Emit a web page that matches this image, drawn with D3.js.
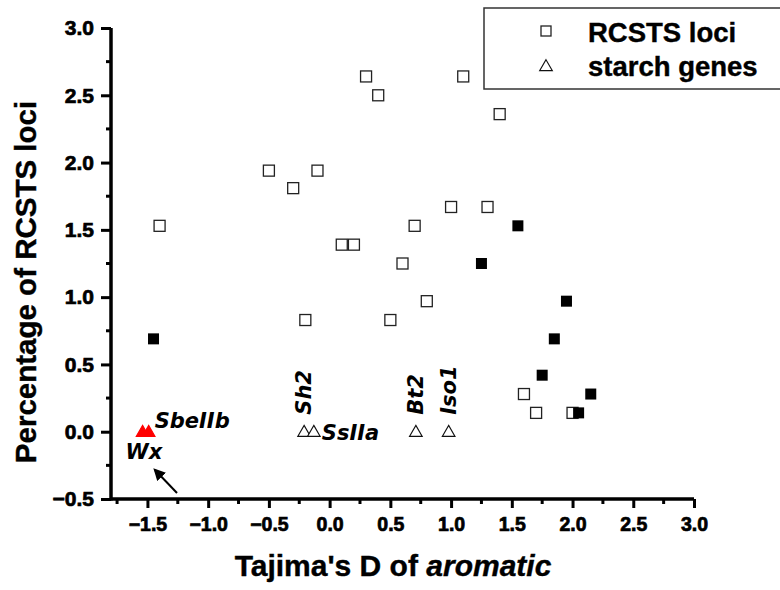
<!DOCTYPE html>
<html>
<head>
<meta charset="utf-8">
<script src="https://cdn.jsdelivr.net/npm/d3@7"></script>
<style>
  body { margin: 0; background: #fff; }
  svg { display: block; }
</style>
</head>
<body>
<svg id="chart" width="780" height="590"></svg>
<script>
// RCSTS loci, open squares
const lociX = [0.30, 1.10, 0.40, 1.40, -0.50, -0.10, -0.30, 1.00, 1.30, -1.40, 0.70, 0.10, 0.20, 0.60, -0.20, 0.50, 0.80, 1.60, 1.70, 2.00];
const lociY = [2.64, 2.64, 2.50, 2.36, 1.94, 1.94, 1.81, 1.67, 1.67, 1.53, 1.53, 1.39, 1.39, 1.25, 0.83, 0.83, 0.97, 0.28, 0.14, 0.14];

// RCSTS loci, filled squares
const filledX = [-1.45, 1.25, 1.55, 1.95, 1.85, 1.75, 2.15, 2.05];
const filledY = [0.69, 1.25, 1.53, 0.97, 0.69, 0.42, 0.28, 0.14];

// starch genes
const geneNames = ["Wx", "SbeIIb", "Sh2", "SsIIa", "Bt2", "Iso1"];
const geneX = [-1.54, -1.49, -0.21, -0.13, 0.71, 0.98];
const geneY = [0, 0, 0, 0, 0, 0];
const geneRed = [true, true, false, false, false, false];

const xTicks = [-1.5, -1.0, -0.5, 0.0, 0.5, 1.0, 1.5, 2.0, 2.5, 3.0];
const yTicks = [-0.5, 0.0, 0.5, 1.0, 1.5, 2.0, 2.5, 3.0];

const svg = d3.select("#chart");
const sansBold = "Liberation Sans, Arial, sans-serif";

const x = d3.scaleLinear().domain([-1.8, 3.0]).range([111, 694]);
const y = d3.scaleLinear().domain([-0.5, 3.0]).range([499, 28]);

const minorX = d3.range(-1.75, 3.0, 0.5);
const minorY = d3.range(-0.25, 3.0, 0.5);

// axes
const xAxis = svg.append("g")
  .attr("transform", "translate(0,499)")
  .call(d3.axisBottom(x).tickValues(xTicks).tickFormat(d3.format(".1f")).tickSize(9).tickPadding(9));
xAxis.append("g").selectAll("line")
  .data(minorX).enter().append("line")
  .attr("x1", d => x(d)).attr("x2", d => x(d))
  .attr("y1", 0).attr("y2", 5)
  .attr("stroke", "#000").attr("stroke-width", 3);

const yAxis = svg.append("g")
  .attr("transform", "translate(111,0)")
  .call(d3.axisLeft(y).tickValues(yTicks).tickFormat(d3.format(".1f")).tickSize(10).tickPadding(7));
yAxis.append("g").selectAll("line")
  .data(minorY).enter().append("line")
  .attr("x1", 0).attr("x2", -5)
  .attr("y1", d => y(d)).attr("y2", d => y(d))
  .attr("stroke", "#000").attr("stroke-width", 3);

[[xAxis, 19.5], [yAxis, 21]].forEach(([g, fs]) => {
  g.select(".domain").remove();
  g.selectAll(".tick line").attr("stroke-width", 3);
  g.selectAll(".tick text")
    .attr("font-family", sansBold)
    .attr("font-weight", "bold")
    .attr("font-size", fs)
    .attr("fill", "#000")
    .attr("stroke", "#000").attr("stroke-width", 0.7);
});
svg.append("line")
  .attr("x1", x(-1.8)).attr("x2", x(3.0)).attr("y1", 499).attr("y2", 499)
  .attr("stroke", "#000").attr("stroke-width", 3.5);
svg.append("line")
  .attr("x1", 111).attr("x2", 111).attr("y1", y(-0.5) + 1.5).attr("y2", y(3.0))
  .attr("stroke", "#000").attr("stroke-width", 3.5);

// axis titles
const xTitle = svg.append("text")
  .attr("x", 393).attr("y", 576)
  .attr("text-anchor", "middle")
  .attr("font-family", sansBold)
  .attr("font-weight", "bold")
  .attr("font-size", 30)
  .attr("stroke", "#000").attr("stroke-width", 0.4);
xTitle.append("tspan").text("Tajima's D of ");
xTitle.append("tspan").attr("font-style", "italic").text("aromatic");

svg.append("text")
  .attr("transform", "translate(36,282) rotate(-90)")
  .attr("text-anchor", "middle")
  .attr("font-family", sansBold)
  .attr("font-weight", "bold")
  .attr("font-size", 29.5)
  .attr("stroke", "#000").attr("stroke-width", 0.4)
  .text("Percentage of RCSTS loci");

// points
const sq = 11;
const loci = lociX.map((v, i) => ({ x: v, y: lociY[i] }));
svg.append("g").selectAll("rect")
  .data(loci).enter().append("rect")
  .attr("x", d => x(d.x) - sq / 2)
  .attr("y", d => y(d.y) - sq / 2)
  .attr("width", sq).attr("height", sq)
  .attr("fill", "#fff").attr("stroke", "#222").attr("stroke-width", 1.3);

const filled = filledX.map((v, i) => ({ x: v, y: filledY[i] }));
svg.append("g").selectAll("rect")
  .data(filled).enter().append("rect")
  .attr("x", d => x(d.x) - sq / 2)
  .attr("y", d => y(d.y) - sq / 2)
  .attr("width", sq).attr("height", sq)
  .attr("fill", "#000");

const tri = d3.symbol().type(d3.symbolTriangle).size(70);
const genes = geneNames.map((n, i) => ({ name: n, x: geneX[i], y: geneY[i], red: geneRed[i] }));
svg.append("g").selectAll("path")
  .data(genes).enter().append("path")
  .attr("d", tri)
  .attr("transform", d => `translate(${x(d.x)},${y(d.y) + 1})`)
  .attr("fill", d => d.red ? "#f00" : "#fff")
  .attr("stroke", d => d.red ? "#f00" : "#111")
  .attr("stroke-width", 1.1);

// gene labels
const lab = (txt, px, py, rot) => svg.append("text")
  .attr("transform", `translate(${px},${py})` + (rot ? " rotate(-90)" : ""))
  .attr("font-family", "DejaVu Sans, Verdana, sans-serif")
  .attr("font-weight", "bold")
  .attr("font-style", "italic")
  .attr("font-size", 21)
  .text(txt);
lab("SbeIIb", x(geneX[1]) + 6, y(0) - 4, false);
lab("Wx", x(geneX[0]) - 17, y(0) + 27, false);
lab("Sh2", x(geneX[2]) + 7, y(0) - 17, true);
lab("SsIIa", x(geneX[3]) + 8, y(0) + 8, false);
lab("Bt2", x(geneX[4]) + 7, y(0) - 17, true);
lab("Iso1", x(geneX[5]) + 7, y(0) - 17, true);

// arrow pointing to Wx
svg.append("defs").append("marker")
  .attr("id", "ah").attr("viewBox", "0 0 10 10")
  .attr("refX", 8).attr("refY", 5)
  .attr("markerWidth", 6).attr("markerHeight", 6)
  .attr("orient", "auto")
  .append("path").attr("d", "M0,0L10,5L0,10z").attr("fill", "#000");
svg.append("line")
  .attr("x1", 177).attr("y1", 493).attr("x2", 155).attr("y2", 470)
  .attr("stroke", "#000").attr("stroke-width", 2)
  .attr("marker-end", "url(#ah)");

// legend
const lg = svg.append("g");
lg.append("rect")
  .attr("x", 484).attr("y", 8).attr("width", 320).attr("height", 81)
  .attr("fill", "#fff").attr("stroke", "#333").attr("stroke-width", 1.5);
lg.append("rect")
  .attr("x", 546 - 5).attr("y", 31 - 5).attr("width", 10).attr("height", 10)
  .attr("fill", "#fff").attr("stroke", "#222").attr("stroke-width", 1.3);
lg.append("path")
  .attr("d", tri).attr("transform", "translate(546,67)")
  .attr("fill", "#fff").attr("stroke", "#111").attr("stroke-width", 1.1);
[["RCSTS loci", 42], ["starch genes", 76]].forEach(([t, yy]) => {
  lg.append("text")
    .attr("x", 588).attr("y", yy)
    .attr("font-family", sansBold)
    .attr("font-weight", "bold")
    .attr("font-size", 27.5)
    .attr("stroke", "#000").attr("stroke-width", 0.4)
    .text(t);
});
</script>
</body>
</html>
